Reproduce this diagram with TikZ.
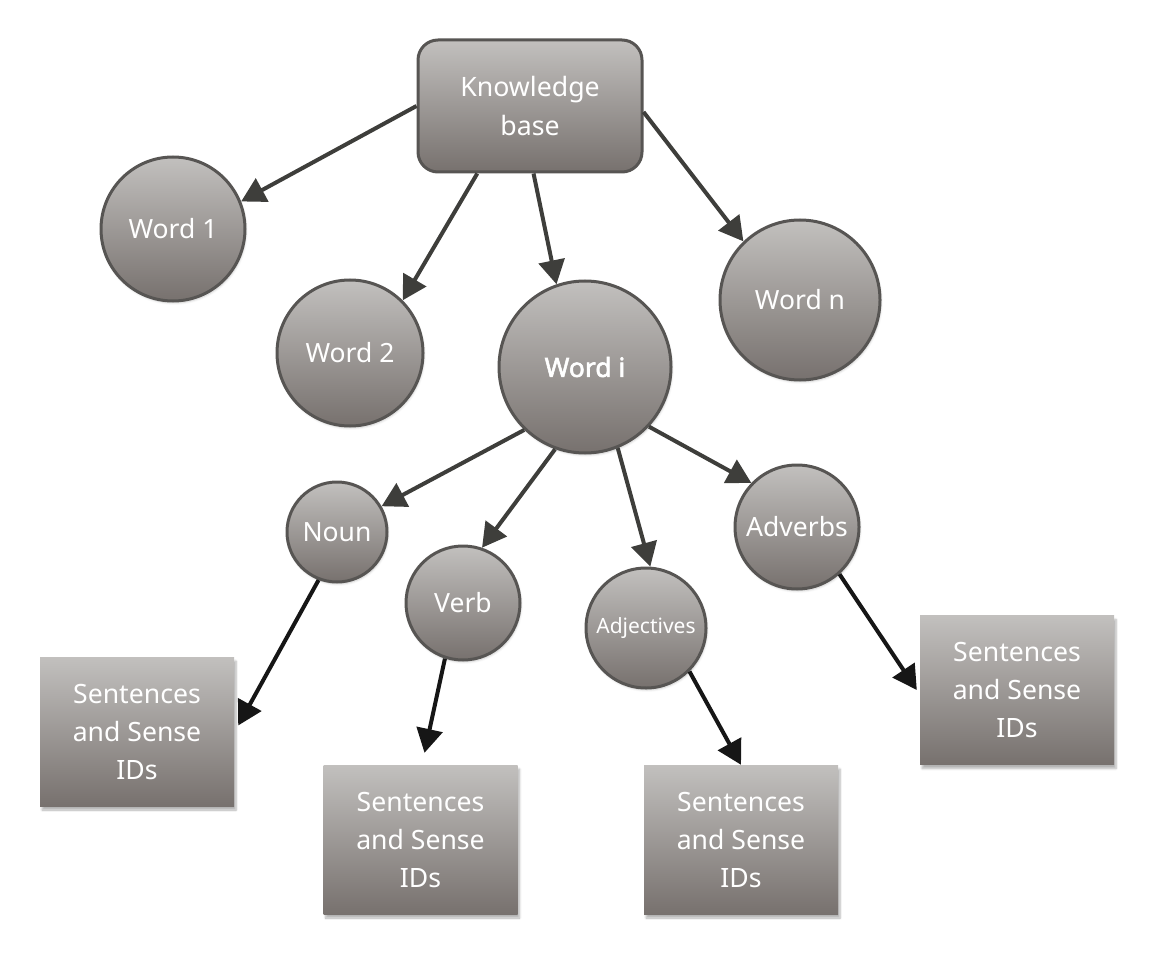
\documentclass[tikz,border=0pt]{standalone}
\usepackage{fontspec}
\setmainfont{Noto Sans}
\newfontfamily\boldnoto{Noto Sans}[FakeBold=2.2]
\usetikzlibrary{arrows.meta,shadows.blur,calc}
\definecolor{gtop}{HTML}{C2C0BE}
\definecolor{gbot}{HTML}{77716E}
\definecolor{bord}{HTML}{575553}
\definecolor{arrA}{HTML}{3E3E3B}
\definecolor{arrB}{HTML}{161616}
\tikzset{
  fillg/.style={top color=gtop,bottom color=gbot,text=white},
  kbbox/.style={fillg,draw=bord,line width=3pt,rounded corners=20pt,minimum width=224pt,minimum height=132pt,align=center,font=\fontsize{26.7}{39}\selectfont,inner sep=0pt},
  wcirc/.style={fillg,draw=bord,line width=3pt,circle,inner sep=0pt,font=\fontsize{26.5}{30}\selectfont,
     blur shadow={shadow xshift=1pt,shadow yshift=-2pt,shadow blur steps=5,shadow opacity=20}},
  sbox/.style={fillg,minimum width=194pt,minimum height=149pt,align=center,inner sep=0pt,font=\fontsize{26.6}{38}\selectfont,
     blur shadow={shadow xshift=2pt,shadow yshift=-4pt,shadow blur steps=6,shadow opacity=30}},
  upar/.style={draw=arrA,line width=4pt,-{Triangle[length=24pt,width=26pt]}},
  dnar/.style={draw=arrB,line width=4pt,-{Triangle[length=24pt,width=26pt]}}
}
\begin{document}
\begin{tikzpicture}[x=1pt,y=-1pt]
\useasboundingbox (0,0) rectangle (1155,957);
\node[kbbox] (kb) at (530,106) {Knowledge\\base};
\node[wcirc,minimum size=144pt] (w1) at (173,229) {Word 1};
\node[wcirc,minimum size=146pt] (w2) at (350,353) {Word 2};
\node[wcirc,minimum size=172pt,font=\fontsize{26.5}{30}\boldnoto] (wi) at (585,367) {Word i};
\node[wcirc,minimum size=160pt] (wn) at (800,300) {Word n};
\node[wcirc,minimum size=100pt] (noun) at (337,532) {Noun};
\node[wcirc,minimum size=114pt] (verb) at (463,603) {Verb};
\node[wcirc,minimum size=120pt,font=\fontsize{21}{24}\selectfont] (adj) at (646,628) {Adjectives};
\node[wcirc,minimum size=124pt] (adv) at (797,527) {Adverbs};
\node[sbox] (r1) at (137,731.5) {Sentences\\and Sense\\IDs};
\node[sbox] (r2) at (420.5,839.5) {Sentences\\and Sense\\IDs};
\node[sbox] (r3) at (741,839.5) {Sentences\\and Sense\\IDs};
\node[sbox] (r4) at (1017,690) {Sentences\\and Sense\\IDs};
\draw[upar] (kb.180) -- (w1.22);
\draw[upar] (kb.-128.3) -- (w2.45);
\draw[upar] (kb.-87.4) -- (wi.109.5);
\draw[upar] (kb.-3.6) -- (wn.134.5);
\draw[upar] (wi.-134) -- (noun.30);
\draw[upar] (wi.-110) -- (verb.71.5);
\draw[upar] (wi.-68) -- (adj.86);
\draw[upar] (wi.-43.7) -- (adv.136);
\draw[dnar] (noun.-111.6) -- ($(r1.east)+(4,-6)$);
\draw[dnar] (verb.-108.8) -- ($(r2.north)+(4,-12)$);
\draw[dnar] (adj.-45) -- (r3.north);
\draw[dnar] (adv.-48.4) -- ($(r4.west)+(-3,0)$);
\end{tikzpicture}
\end{document}
